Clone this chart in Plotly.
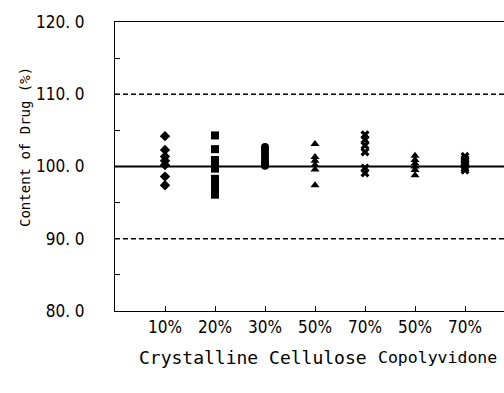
import plotly.graph_objects as go

# ---- data ----
positions = [1, 2, 3, 4, 5, 6, 7]
tick_labels = ["10%", "20%", "30%", "50%", "70%", "50%", "70%"]
y_ticks = [80, 90, 100, 110, 120]

cc10 = [104.2, 102.3, 101.4, 100.8, 100.2, 98.6, 97.4]
cc20 = [104.3, 102.4, 100.9, 100.3, 99.7, 98.3, 97.5, 96.8, 96.1]
cc30 = [102.7, 102.3, 101.8, 101.3, 100.8, 100.4, 100.1]
cc50 = [103.1, 101.3, 100.8, 100.2, 99.6, 97.4]
cc70 = [104.4, 103.7, 102.9, 102.0, 99.8, 99.1]
cp50 = [101.5, 100.9, 100.4, 100.0, 99.5, 98.8]
cp70 = [101.4, 101.0, 100.6, 100.2, 99.8, 99.5]

series = [
    (positions[0], cc10, "diamond"),
    (positions[1], cc20, "square"),
    (positions[2], cc30, "circle"),
    (positions[3], cc50, "triangle-up"),
    (positions[4], cc70, "x"),
    (positions[5], cp50, "triangle-up"),
    (positions[6], cp70, "x"),
]

fig = go.Figure()
for xpos, vals, sym in series:
    fig.add_trace(go.Scatter(
        x=[xpos] * len(vals), y=vals, mode="markers",
        marker=dict(symbol=sym, size=8, color="black",
                    line=dict(width=0)),
        showlegend=False, cliponaxis=False,
    ))

# reference lines
fig.add_shape(type="line", xref="paper", x0=0, x1=1, yref="y", y0=100, y1=100,
              line=dict(color="black", width=2))
for lvl in (110, 90):
    fig.add_shape(type="line", xref="paper", x0=0, x1=1, yref="y", y0=lvl, y1=lvl,
                  line=dict(color="black", width=1.5, dash="5px,3px"))

tick_font = dict(family="Liberation Sans Narrow, DejaVu Sans Condensed, sans-serif",
                 size=17, color="black")
title_family = "DejaVu Sans Mono, Liberation Mono, monospace"

fig.update_layout(
    width=504, height=393,
    margin=dict(l=115, r=0, t=22, b=82),
    paper_bgcolor="white", plot_bgcolor="white",
    xaxis=dict(
        range=[0, 7.78], tickvals=positions, ticktext=tick_labels,
        ticks="inside", ticklen=5, tickcolor="black", tickwidth=1,
        showline=True, linecolor="black", linewidth=1, mirror=True,
        showgrid=False, zeroline=False, tickfont=tick_font,
        ticklabelstandoff=1,
    ),
    yaxis=dict(
        range=[80, 120], tickvals=y_ticks,
        ticktext=[f"{v:.1f}".replace(".", ". ") for v in y_ticks],
        ticks="inside", ticklen=5, tickcolor="black", tickwidth=1,
        minor=dict(ticks="inside", dtick=5, ticklen=5, tickcolor="black", showgrid=False),
        showline=True, linecolor="black", linewidth=1, mirror=False,
        showgrid=False, zeroline=False, tickfont=tick_font,
        ticklabelstandoff=26,
    ),
    annotations=[
        dict(text="Content of Drug (%)", xref="paper", yref="paper",
             x=(25 - 115) / 389, y=(311 - 147) / 289, textangle=-90, showarrow=False,
             font=dict(family=title_family, size=14, color="black"),
             xanchor="center", yanchor="middle"),
        dict(text="Crystalline Cellulose", xref="paper", yref="paper",
             x=(253 - 115) / 389, y=-(357 - 311) / 289, showarrow=False,
             font=dict(family=title_family, size=18, color="black"),
             xanchor="center", yanchor="middle"),
        dict(text="Copolyvidone", xref="paper", yref="paper",
             x=(376 - 115) / 389, y=-(357 - 311) / 289, showarrow=False,
             font=dict(family=title_family, size=16.5, color="black"),
             xanchor="left", yanchor="middle"),
    ],
)

fig.write_html("out.html")
